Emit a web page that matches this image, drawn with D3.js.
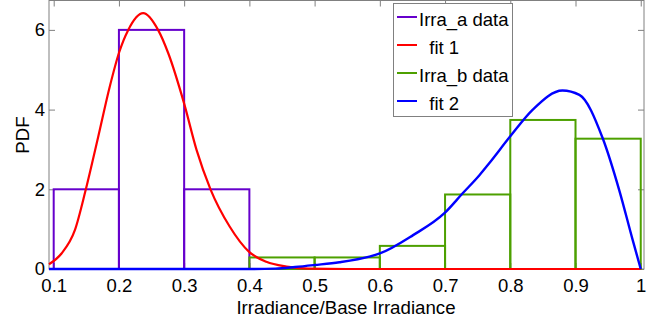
<!DOCTYPE html>
<html>
<head>
<meta charset="utf-8">
<script src="https://cdn.jsdelivr.net/npm/d3@7"></script>
<style>
  body { margin: 0; background: #fff; }
  text { font-family: "Liberation Sans", Arial, sans-serif; }
</style>
</head>
<body>
<script>
// histogram bins (left edges) and heights
const binStart = [0.1, 0.2, 0.3, 0.4, 0.5, 0.6, 0.7, 0.8, 0.9];
const irraA = [2, 6, 2, 0, 0, 0, 0, 0, 0];
const irraB = [0, 0, 0, 0.29, 0.29, 0.58, 1.87, 3.74, 3.27];

// fitted curves
const fit1X = [0.0928, 0.112, 0.1326, 0.149, 0.168, 0.186, 0.200, 0.2143, 0.2372, 0.260, 0.2755, 0.300, 0.319, 0.3404, 0.370, 0.3996, 0.426, 0.457, 0.49, 0.55, 1.0];
const fit1Y = [0.12, 0.39, 0.98, 1.98, 3.3, 4.58, 5.42, 6.0, 6.42, 6.0, 5.42, 4.15, 2.99, 2.0, 1.06, 0.43, 0.18, 0.06, 0.01, 0, 0];
const fit2X = [0.0928, 0.40, 0.44, 0.47, 0.5, 0.538, 0.584, 0.6, 0.651, 0.699, 0.727, 0.753, 0.768, 0.8, 0.8345, 0.880, 0.906, 0.9417, 0.967, 0.9876, 1.0];
const fit2Y = [0, 0, 0.01, 0.05, 0.1, 0.17, 0.31, 0.39, 0.85, 1.40, 1.90, 2.36, 2.66, 3.33, 4.0, 4.48, 4.37, 3.28, 1.98, 0.73, 0];

const xTicks = [0.1, 0.2, 0.3, 0.4, 0.5, 0.6, 0.7, 0.8, 0.9, 1];
const yTicks = [0, 2, 4, 6];
const legendLabels = ["Irra_a data", "  fit 1", "Irra_b data", "  fit 2"];
const legendColors = ["#6600cc", "#ff0000", "#4da000", "#0000ff"];

const width = 657, height = 323;
const svg = d3.select("body").append("svg").attr("width", width).attr("height", height);

const x = d3.scaleLinear().domain([0.0928, 1.005]).range([49, 644]);
const y = d3.scaleLinear().domain([0, 6.75]).range([269, 0]);

// axis ticks (inside, MATLAB style)
const axisGray = "#808080";
function styleAxis(g) {
    g.select(".domain").remove();
    g.selectAll(".tick line").attr("stroke", axisGray);
    g.selectAll(".tick text").attr("fill", "#000").style("font-size", "18.5px");
}
svg.append("g").attr("transform", "translate(0,269)")
    .call(d3.axisBottom(x).tickValues(xTicks).tickSizeInner(-6).tickSizeOuter(0).tickPadding(10)
        .tickFormat(d => String(d)))
    .call(styleAxis);
svg.append("g").attr("transform", "translate(0,0.5)")
    .call(d3.axisTop(x).tickValues(xTicks).tickSizeInner(-6).tickSizeOuter(0).tickFormat(""))
    .call(styleAxis);
svg.append("g").attr("transform", "translate(49,0)")
    .call(d3.axisLeft(y).tickValues(yTicks).tickSizeInner(-6).tickSizeOuter(0).tickPadding(4)
        .tickFormat(d => String(d)))
    .call(styleAxis);
svg.append("g").attr("transform", "translate(644,0)")
    .call(d3.axisRight(y).tickValues(yTicks).tickSizeInner(-6).tickSizeOuter(0).tickFormat(""))
    .call(styleAxis);

// axes box
svg.append("rect")
    .attr("x", x.range()[0]).attr("y", 0.5)
    .attr("width", x.range()[1] - x.range()[0]).attr("height", y(0) - 0.5)
    .attr("fill", "none").attr("stroke", axisGray).attr("stroke-width", 1);

// histogram outlines
function drawBars(values, color) {
    svg.append("g").selectAll("rect")
        .data(values.map((v, i) => ({ x0: binStart[i], v })))
        .join("rect")
        .attr("x", d => x(d.x0))
        .attr("y", d => y(d.v))
        .attr("width", d => x(d.x0 + 0.1) - x(d.x0))
        .attr("height", d => y(0) - y(d.v))
        .attr("fill", "none")
        .attr("stroke", color)
        .attr("stroke-width", 2);
}
drawBars(irraA, legendColors[0]);
drawBars(irraB, legendColors[2]);

// fitted curves
const line = d3.line().x(d => x(d[0])).y(d => y(d[1])).curve(d3.curveMonotoneX);
svg.append("path").datum(fit1X.map((v, i) => [v, fit1Y[i]]))
    .attr("d", line).attr("fill", "none").attr("stroke", legendColors[1]).attr("stroke-width", 2.2);
svg.append("path").datum(fit2X.map((v, i) => [v, fit2Y[i]]))
    .attr("d", line).attr("fill", "none").attr("stroke", legendColors[3]).attr("stroke-width", 2.4);

// axis labels
svg.append("text")
    .attr("x", 346).attr("y", 314)
    .attr("text-anchor", "middle")
    .style("font-size", "18.7px")
    .text("Irradiance/Base Irradiance");
svg.append("text")
    .attr("transform", "translate(29,135) rotate(-90)")
    .attr("text-anchor", "middle")
    .style("font-size", "18.7px")
    .text("PDF");

// legend
const legend = svg.append("g");
legend.append("rect")
    .attr("x", 393.5).attr("y", 3.5).attr("width", 119).attr("height", 113)
    .attr("fill", "#fff").attr("stroke", axisGray).attr("stroke-width", 1);
legendLabels.forEach((label, i) => {
    const base = 26 + i * 28;
    legend.append("line")
        .attr("x1", 397).attr("x2", 417)
        .attr("y1", base - 9).attr("y2", base - 9)
        .attr("stroke", legendColors[i]).attr("stroke-width", 2);
    legend.append("text")
        .attr("x", 419).attr("y", base)
        .style("font-size", "18.5px")
        .style("white-space", "pre")
        .text(label);
});
</script>
</body>
</html>
